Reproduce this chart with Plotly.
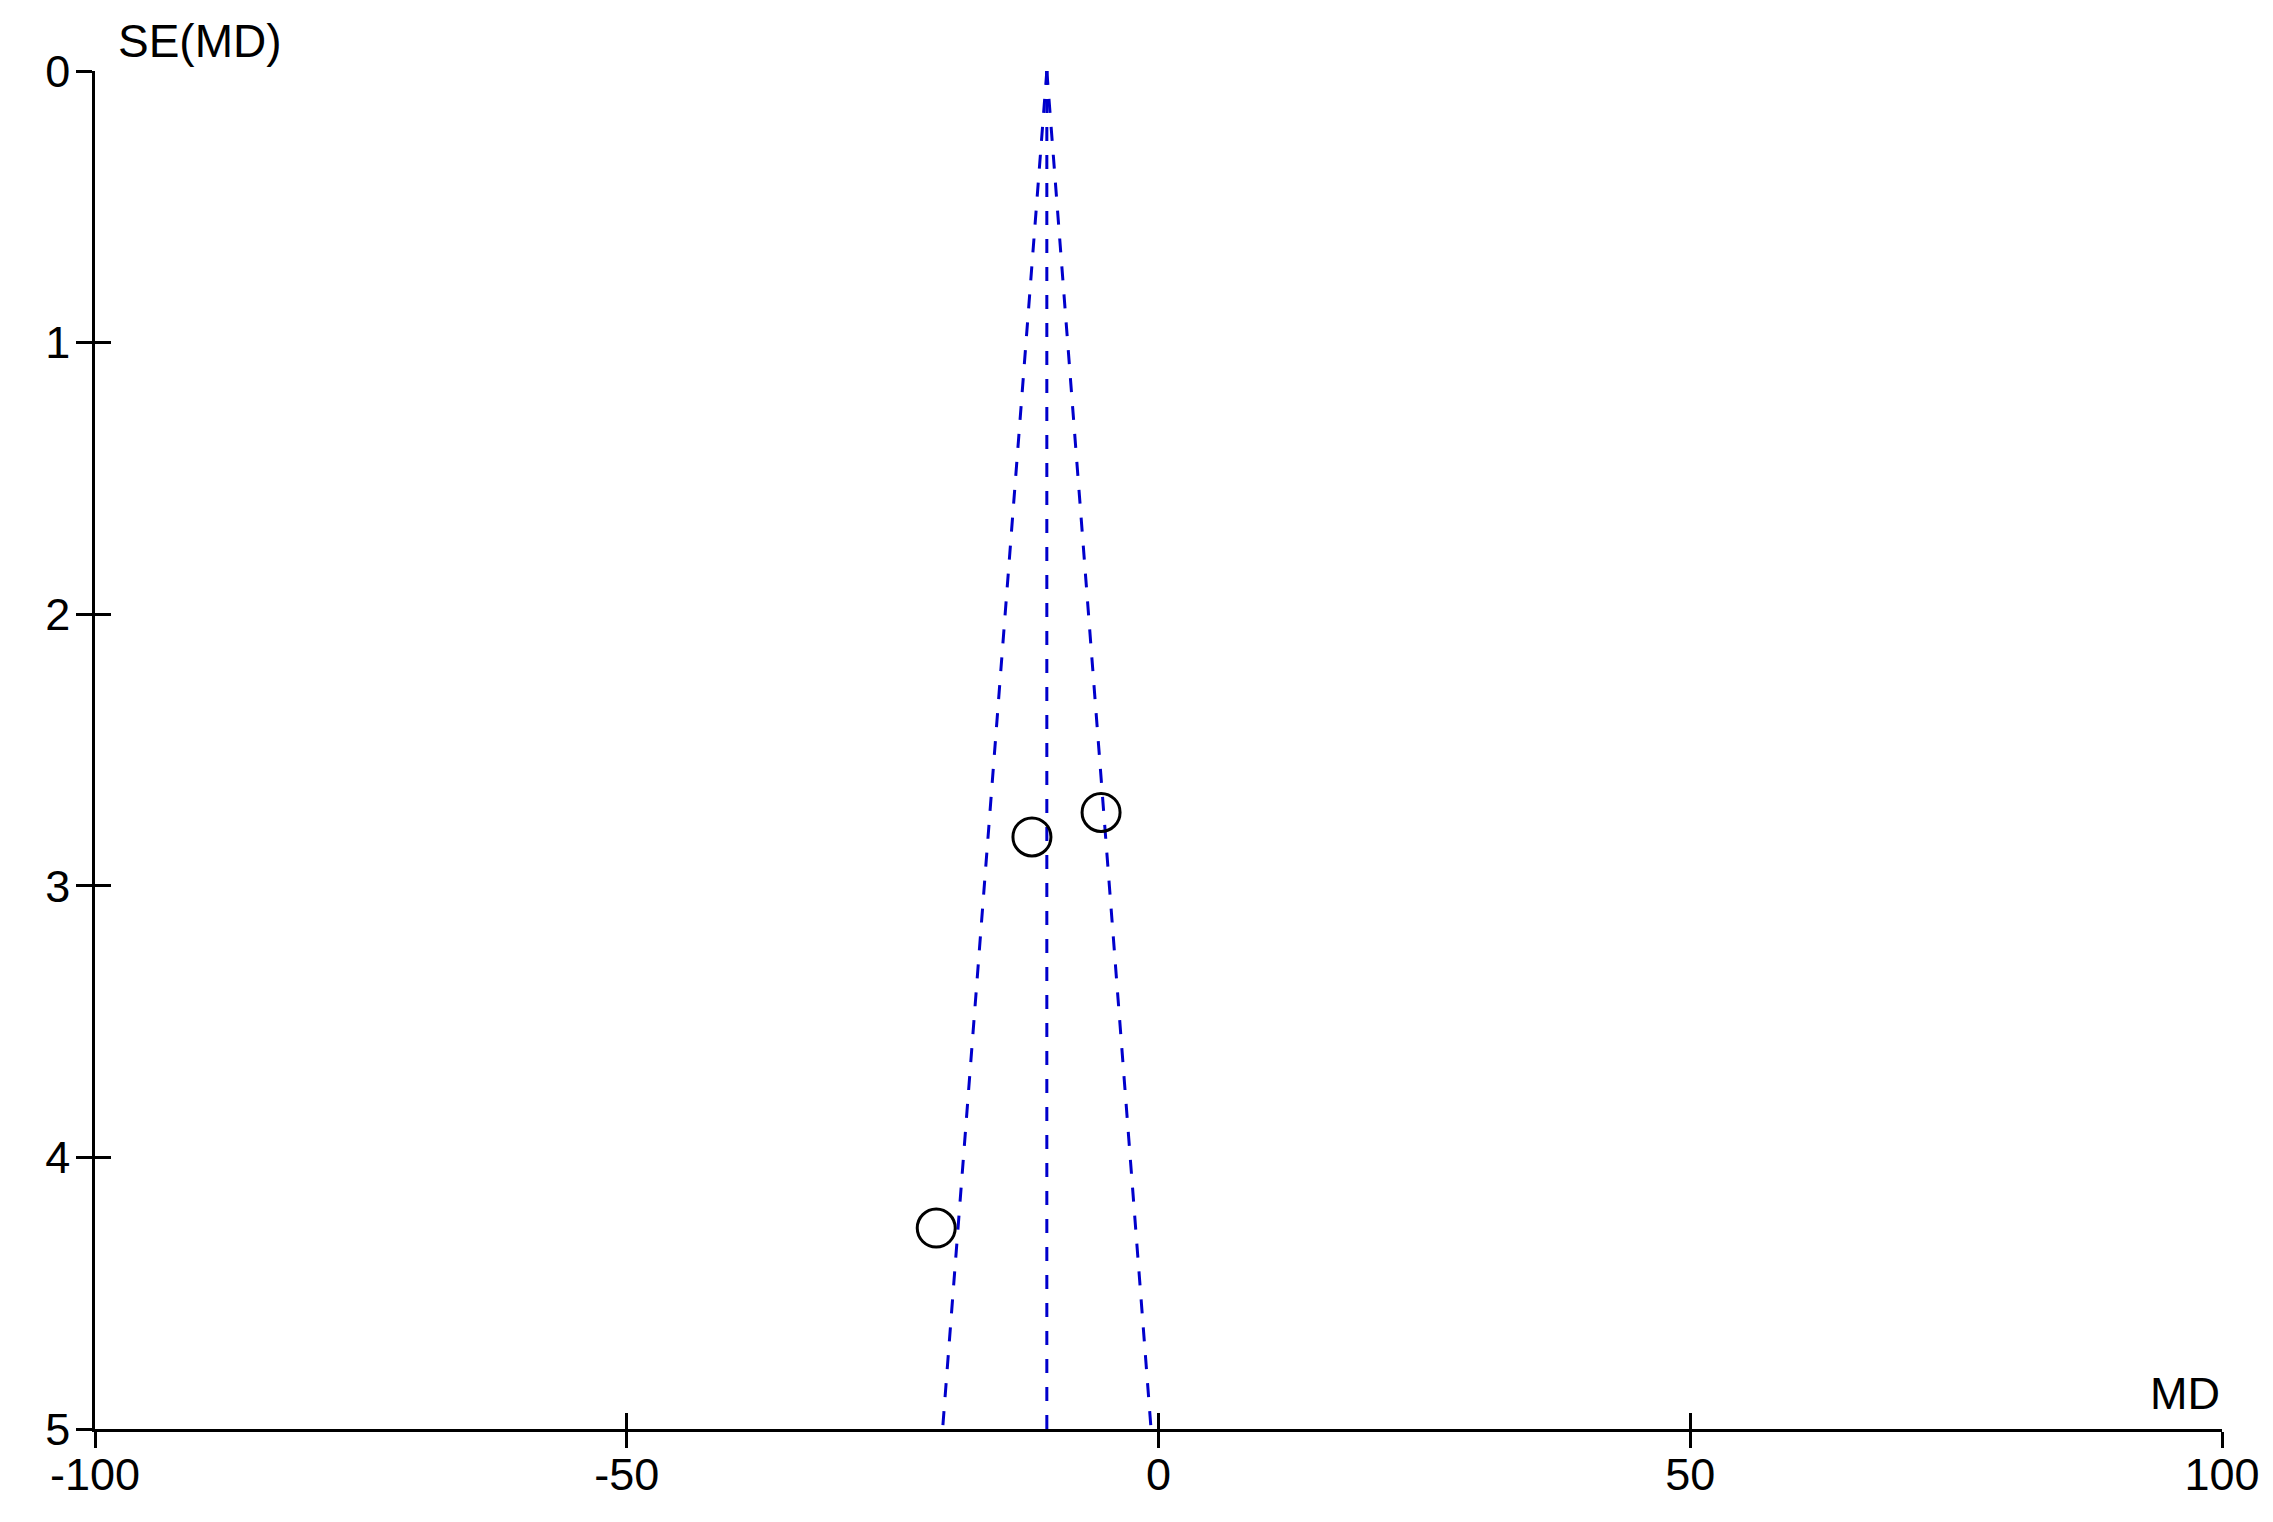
import plotly.graph_objects as go

# Data
study_md = [-11.9, -5.4, -20.9]
study_se = [2.82, 2.73, 4.26]
pooled_md = -10.5
funnel_se = [0, 5]
z_crit = 1.96

x_ticks = [-100, -50, 0, 50, 100]
x_tick_labels = ["-100", "-50", "0", "50", "100"]
y_ticks = [0, 1, 2, 3, 4, 5]
y_tick_labels = ["0", "1", "2", "3", "4", "5"]

FONT = "Liberation Sans, Arial, sans-serif"
BLUE = "#0000CC"
DASH = "14px,14px"

fig = go.Figure()

# funnel limits
left_x = [pooled_md - z_crit * s for s in funnel_se]
right_x = [pooled_md + z_crit * s for s in funnel_se]
for xs in (left_x, right_x, [pooled_md, pooled_md]):
    fig.add_trace(go.Scatter(x=xs, y=funnel_se, mode="lines",
                             line=dict(color=BLUE, width=3, dash=DASH),
                             hoverinfo="skip", showlegend=False))

fig.add_trace(go.Scatter(x=study_md, y=study_se, mode="markers",
                         marker=dict(symbol="circle-open", size=38,
                                     color="black", line=dict(width=3, color="black")),
                         showlegend=False))

axis_common = dict(showgrid=False, zeroline=False, tickwidth=2.5, ticklen=16,
                   tickcolor="black", automargin=False,
                   tickfont=dict(family=FONT, size=45, color="black"))

fig.update_layout(
    width=2273, height=1522,
    margin=dict(l=87, r=59, t=63, b=101),
    plot_bgcolor="white", paper_bgcolor="white",
    xaxis=dict(range=[-100, 100], tickvals=x_ticks, ticktext=x_tick_labels, ticks="outside",
               ticklabelstandoff=-12,
               showline=True, linecolor="black", linewidth=2.5, **axis_common),
    yaxis=dict(range=[5, 0], tickvals=y_ticks, ticktext=y_tick_labels, ticks="outside",
               ticklabelstandoff=-3,
               showline=True, linecolor="black", linewidth=2.5, **axis_common),
    xaxis2=dict(range=[-100, 100], tickvals=x_ticks, ticks="inside", overlaying="x",
                anchor="y", side="bottom", showticklabels=False, showline=False,
                **axis_common),
    yaxis2=dict(range=[5, 0], tickvals=y_ticks, ticks="inside", overlaying="y",
                anchor="x", side="left", showticklabels=False, showline=False,
                **axis_common),
    annotations=[
        dict(text="SE(MD)", xref="paper", yref="paper", x=0.01, y=1,
             xanchor="left", yanchor="bottom", yshift=2, showarrow=False,
             font=dict(family=FONT, size=46, color="black")),
        dict(text="MD", xref="paper", yref="paper", x=1, y=0,
             xanchor="right", yanchor="bottom", yshift=8, showarrow=False,
             font=dict(family=FONT, size=45, color="black")),
    ],
)

# dummy trace to activate overlay axes
fig.add_trace(go.Scatter(x=[None], y=[None], xaxis="x2", yaxis="y2", showlegend=False))

fig.write_html("out.html")
